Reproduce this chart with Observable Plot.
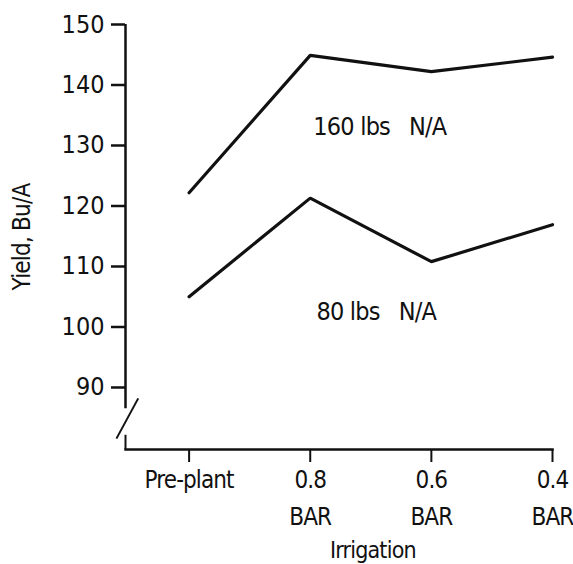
<!DOCTYPE html>
<html>
<head>
<meta charset="utf-8">
<script src="https://cdn.jsdelivr.net/npm/d3@7"></script>
<script src="https://cdn.jsdelivr.net/npm/@observablehq/plot@0.6"></script>
<style>
  html, body { margin: 0; padding: 0; background: #fff; }
  svg { display: block; }
  g[aria-label="x-axis tick label"] text { letter-spacing: -0.9px; }
  g[aria-label="text"] text { letter-spacing: -0.8px; }
</style>
</head>
<body>
<div id="chart"></div>
<script>
// Irrigation treatments (x categories)
const categories = ["Pre-plant", "0.8\nBAR", "0.6\nBAR", "0.4\nBAR"];
// Yield, Bu/A by nitrogen rate
const yield160 = [122.2, 144.9, 142.2, 144.6];
const yield80 = [105.0, 121.3, 110.8, 116.9];
const yTicks = [90, 100, 110, 120, 130, 140, 150];
// series labels and their positions (in data units)
const seriesLabels = ["160 lbs\u00a0\u00a0\u00a0N/A", "80 lbs\u00a0\u00a0\u00a0N/A"];
const labelX = [1.575, 1.545];
const labelY = [131.7, 101.1];
// axis extents and break (data units)
const xDomain = [-0.525, 3];
const yDomain = [79.75, 150];
const yAxisBreakTop = 86.5;
const breakSlashX = [-0.6, -0.42];
const breakSlashY = [81.55, 88.2];
const breakStubY = [79.75, 82.1];
const xTitle = "Irrigation";
const xTitlePos = 1.517;
const yTitle = "Yield, Bu/A";

const rows = [];
categories.forEach((c, i) => {
  rows.push({i, y: yield160[i], s: "160"});
});
categories.forEach((c, i) => {
  rows.push({i, y: yield80[i], s: "80"});
});
const labels = seriesLabels.map((t, k) => ({t, x: labelX[k], y: labelY[k]}));

const font = "'Liberation Sans Narrow', 'DejaVu Sans Condensed', 'Arial Narrow', sans-serif";

const chart = Plot.plot({
  width: 573,
  height: 564,
  marginLeft: 125,
  marginRight: 21,
  marginTop: 24,
  marginBottom: 115,
  style: {fontFamily: font, color: "#111", background: "#fff"},
  x: {type: "linear", domain: xDomain, range: [125, 552]},
  y: {domain: yDomain},
  marks: [
    Plot.frame({anchor: "bottom", stroke: "#111", strokeWidth: 2.5}),
    Plot.ruleX([xDomain[0]], {y1: yAxisBreakTop, y2: yDomain[1], stroke: "#111", strokeWidth: 2.5}),
    Plot.ruleX([xDomain[0]], {y1: breakStubY[0], y2: breakStubY[1], stroke: "#111", strokeWidth: 2}),
    Plot.link([0], {x1: breakSlashX[0], y1: breakSlashY[0], x2: breakSlashX[1], y2: breakSlashY[1], stroke: "#111", strokeWidth: 2, clip: false}),
    Plot.axisY({ticks: yTicks, tickSize: 14, tickPadding: 7, tickFormat: d => String(d), fontSize: 25, label: null, strokeWidth: 2.5}),
    Plot.axisX({ticks: [0, 1, 2, 3], tickSize: 13, tickPadding: -1, tickFormat: i => categories[i], fontSize: 24, lineHeight: 1.54, label: null, strokeWidth: 2}),
    Plot.text([yTitle], {frameAnchor: "left", dx: -103, rotate: -90, text: d => d, fontSize: 24, textAnchor: "middle", lineAnchor: "middle"}),
    Plot.text([xTitle], {x: xTitlePos, y: yDomain[0], dy: 108, text: d => d, fontSize: 23, textAnchor: "middle", lineAnchor: "bottom"}),
    Plot.line(rows, {x: "i", y: "y", z: "s", stroke: "#111", strokeWidth: 3.2, strokeLinejoin: "miter", strokeLinecap: "round"}),
    Plot.text(labels, {x: "x", y: "y", text: "t", fontSize: 25, textAnchor: "middle", lineAnchor: "bottom"})
  ]
});
document.getElementById("chart").appendChild(chart);
</script>
</body>
</html>
